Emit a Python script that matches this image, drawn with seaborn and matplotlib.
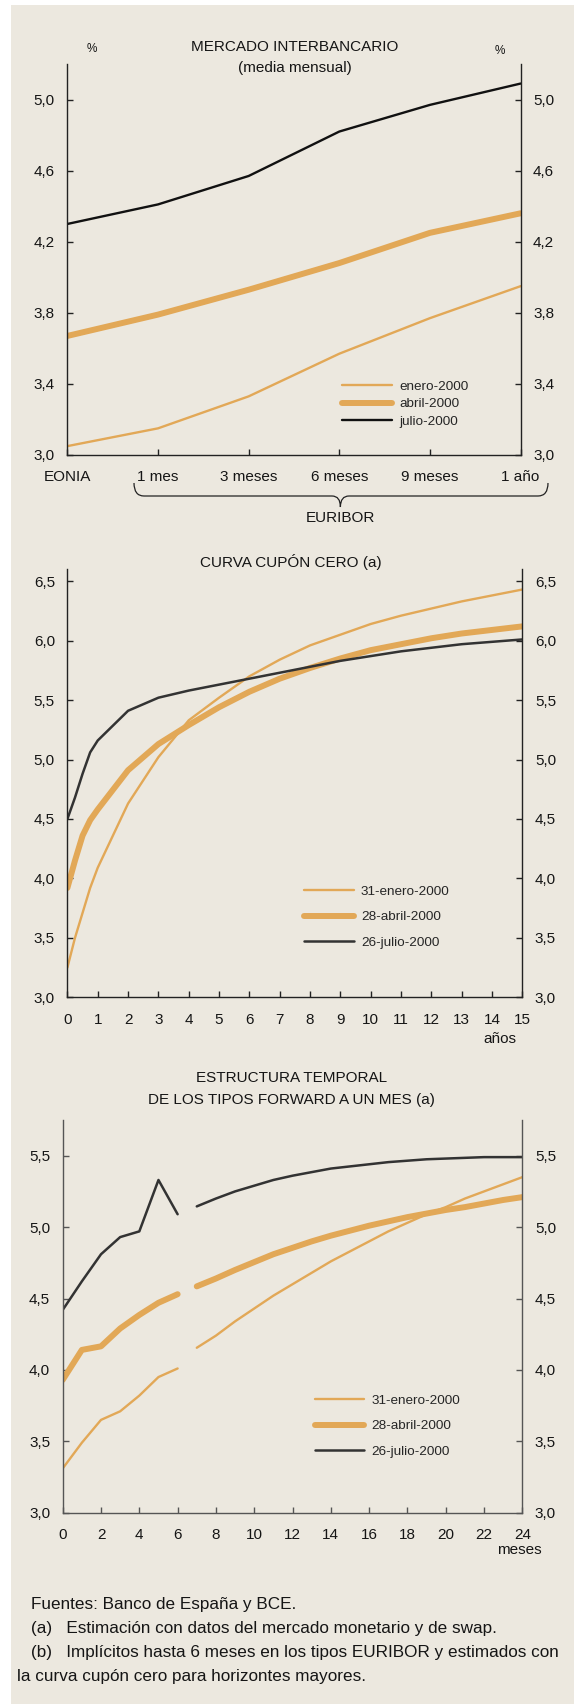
import numpy as np
import pandas as pd
import matplotlib
matplotlib.use('Agg')
import matplotlib.pyplot as plt
from matplotlib.patches import Rectangle, PathPatch
from matplotlib.path import Path
import seaborn as sns

# Mercado interbancario (media mensual)
categorias = ['EONIA', '1 mes', '3 meses', '6 meses', '9 meses', '1 año']
inter_enero = [3.05, 3.15, 3.33, 3.57, 3.77, 3.95]
inter_abril = [3.67, 3.79, 3.93, 4.08, 4.25, 4.36]
inter_julio = [4.30, 4.41, 4.57, 4.82, 4.97, 5.09]

# Curva cupon cero
anos = [0, 0.25, 0.5, 0.75, 1, 2, 3, 4, 5, 6, 7, 8, 9, 10, 11, 12, 13, 14, 15]
cupon_enero = [3.25, 3.50, 3.71, 3.92, 4.09, 4.63, 5.02, 5.33, 5.52, 5.70, 5.84,
               5.96, 6.05, 6.14, 6.21, 6.27, 6.33, 6.38, 6.43]
cupon_abril = [3.92, 4.15, 4.36, 4.49, 4.58, 4.91, 5.13, 5.29, 5.44, 5.57, 5.68,
               5.77, 5.85, 5.92, 5.97, 6.02, 6.06, 6.09, 6.12]
cupon_julio = [4.50, 4.68, 4.88, 5.06, 5.16, 5.41, 5.52, 5.58, 5.63, 5.68, 5.73,
               5.78, 5.83, 5.87, 5.91, 5.94, 5.97, 5.99, 6.01]

# Tipos forward a un mes (tramo EURIBOR y tramo cupon cero)
meses_a = [0, 1, 2, 3, 4, 5, 6]
meses_b = list(range(7, 25))
fwd_enero_a = [3.31, 3.49, 3.65, 3.71, 3.82, 3.95, 4.01]
fwd_abril_a = [3.93, 4.14, 4.165, 4.29, 4.385, 4.47, 4.53]
fwd_julio_a = [4.42, 4.62, 4.81, 4.93, 4.97, 5.33, 5.09]
fwd_enero_b = [4.155, 4.24, 4.34, 4.43, 4.52, 4.60, 4.68, 4.76, 4.83, 4.90, 4.97,
               5.03, 5.09, 5.14, 5.20, 5.25, 5.30, 5.35]
fwd_abril_b = [4.585, 4.64, 4.70, 4.755, 4.81, 4.855, 4.90, 4.94, 4.975, 5.01, 5.04,
               5.07, 5.095, 5.12, 5.14, 5.165, 5.19, 5.21]
fwd_julio_b = [5.145, 5.20, 5.25, 5.29, 5.33, 5.36, 5.385, 5.41, 5.425, 5.44, 5.455,
               5.465, 5.475, 5.48, 5.485, 5.49, 5.49, 5.49]

sns.set_style('ticks')
plt.rcParams['font.family'] = ['Liberation Sans', 'DejaVu Sans']
plt.rcParams['lines.solid_capstyle'] = 'round'

NARANJA = '#E2A857'
FONDO = '#ECE8DF'
W, H = 574, 1704

fig = plt.figure(figsize=(W / 100, H / 100), dpi=100)
fig.patch.set_facecolor('white')
fig.add_artist(Rectangle((11 / W, 0), 1 - 11 / W, 1 - 5 / H, transform=fig.transFigure,
                         facecolor=FONDO, edgecolor='none', zorder=-10))


def caja(l, t, r, b):
    return [l / W, 1 - b / H, (r - l) / W, (b - t) / H]


def texto(x, y, s, **kw):
    kw.setdefault('ha', 'center')
    kw.setdefault('va', 'center')
    kw.setdefault('fontsize', 11)
    fig.text(x / W, 1 - y / H, s, color='#151515', **kw)


def estilo(ax, yt, ylim, color_eje):
    ax.set_facecolor('none')
    ax.spines['top'].set_visible(False)
    for s in ['left', 'right', 'bottom']:
        ax.spines[s].set_visible(True)
        ax.spines[s].set_color(color_eje)
        ax.spines[s].set_linewidth(1.0)
    ax.set_ylim(*ylim)
    ax.set_yticks(yt)
    ax.set_yticklabels([f'{v:.1f}'.replace('.', ',') for v in yt])
    ax.tick_params(axis='y', left=True, right=True, labelleft=True, labelright=True,
                   direction='in', length=4, width=1, pad=9, labelsize=11,
                   color=color_eje, labelcolor='#151515')
    ax.tick_params(axis='x', direction='in', length=4, width=1, pad=11, labelsize=11,
                   color=color_eje, labelcolor='#151515')
    ax.set_xlabel('')
    ax.set_ylabel('')


# ---- panel 1
ax1 = fig.add_axes(caja(67.4, 64, 520.6, 455))
pos = np.arange(len(categorias))
sns.lineplot(x=pos, y=inter_enero, ax=ax1, color=NARANJA, linewidth=1.7, label='enero-2000')
sns.lineplot(x=pos, y=inter_abril, ax=ax1, color=NARANJA, linewidth=4.3, label='abril-2000')
sns.lineplot(x=pos, y=inter_julio, ax=ax1, color='#111111', linewidth=1.7, label='julio-2000')
estilo(ax1, [3.0, 3.4, 3.8, 4.2, 4.6, 5.0], (3.0, 5.2), '#222222')
ax1.set_xlim(0, len(categorias) - 1)
ax1.set_xticks(pos)
ax1.set_xticklabels(categorias)
ax1.legend(loc='upper left', bbox_to_anchor=(0.606, 0.191), frameon=False, fontsize=9.7,
           handlelength=3.7, handletextpad=0.55, labelspacing=0.39, borderpad=0,
           borderaxespad=0)

# ---- panel 2
ax2 = fig.add_axes(caja(67.4, 569.3, 522.4, 997.3))
sns.lineplot(x=anos, y=cupon_enero, ax=ax2, color=NARANJA, linewidth=1.7, label='31-enero-2000')
sns.lineplot(x=anos, y=cupon_abril, ax=ax2, color=NARANJA, linewidth=4.3, label='28-abril-2000')
sns.lineplot(x=anos, y=cupon_julio, ax=ax2, color='#333333', linewidth=1.8, label='26-julio-2000')
estilo(ax2, [3.0, 3.5, 4.0, 4.5, 5.0, 5.5, 6.0, 6.5], (3.0, 6.6), '#222222')
ax2.set_xlim(0, 15)
ax2.set_xticks(range(0, 16))
ax2.legend(loc='upper left', bbox_to_anchor=(0.521, 0.261), frameon=False, fontsize=9.7,
           handlelength=3.7, handletextpad=0.5, labelspacing=0.96, borderpad=0,
           borderaxespad=0)

# ---- panel 3
ax3 = fig.add_axes(caja(62.7, 1120, 522.4, 1512.7))
sns.lineplot(x=meses_a, y=fwd_enero_a, ax=ax3, color=NARANJA, linewidth=1.7, label='31-enero-2000')
sns.lineplot(x=meses_a, y=fwd_abril_a, ax=ax3, color=NARANJA, linewidth=4.3, label='28-abril-2000')
sns.lineplot(x=meses_a, y=fwd_julio_a, ax=ax3, color='#333333', linewidth=1.8, label='26-julio-2000')
sns.lineplot(x=meses_b, y=fwd_enero_b, ax=ax3, color=NARANJA, linewidth=1.7)
sns.lineplot(x=meses_b, y=fwd_abril_b, ax=ax3, color=NARANJA, linewidth=4.3)
sns.lineplot(x=meses_b, y=fwd_julio_b, ax=ax3, color='#333333', linewidth=1.8)
estilo(ax3, [3.0, 3.5, 4.0, 4.5, 5.0, 5.5], (3.0, 5.75), '#555555')
ax3.set_xlim(0, 24)
ax3.set_xticks(range(0, 25, 2))
h, l = ax3.get_legend_handles_labels()
ax3.legend(h[:3], l[:3], loc='upper left', bbox_to_anchor=(0.548, 0.301), frameon=False,
           fontsize=9.7, handlelength=3.7, handletextpad=0.5, labelspacing=0.96,
           borderpad=0, borderaxespad=0)

# ---- textos
texto(294.7, 46.7, 'MERCADO INTERBANCARIO')
texto(294.7, 68, '(media mensual)')
texto(91.5, 49, '%', fontsize=8.5)
texto(499.7, 51, '%', fontsize=8.5)
texto(340.4, 518, 'EURIBOR')
texto(291, 561.7, 'CURVA CUPÓN CERO (a)')
texto(500, 1039, 'años')
texto(291.8, 1078, 'ESTRUCTURA TEMPORAL')
texto(291.8, 1100, 'DE LOS TIPOS FORWARD A UN MES (a)')
texto(519.8, 1550, 'meses')

# llave bajo EURIBOR
def p(x, y):
    return (x / W, 1 - y / H)

verts = [p(134, 483), p(134, 496), p(144, 496), p(332, 496), p(340.4, 496), p(340.4, 507),
         p(340.4, 496), p(349, 496), p(538, 496), p(548, 496), p(548, 483)]
codes = [Path.MOVETO, Path.CURVE3, Path.CURVE3, Path.LINETO, Path.CURVE3, Path.CURVE3,
         Path.CURVE3, Path.CURVE3, Path.LINETO, Path.CURVE3, Path.CURVE3]
fig.add_artist(PathPatch(Path(verts, codes), transform=fig.transFigure, facecolor='none',
                         edgecolor='#222222', linewidth=0.9))

# notas
fs = 12.3
texto(31, 1605, 'Fuentes: Banco de España y BCE.', ha='left', fontsize=fs)
texto(31, 1629, '(a)   Estimación con datos del mercado monetario y de swap.', ha='left', fontsize=fs)
texto(31, 1653, '(b)   Implícitos hasta 6 meses en los tipos EURIBOR y estimados con', ha='left', fontsize=fs)
texto(17, 1676, 'la curva cupón cero para horizontes mayores.', ha='left', fontsize=fs)

fig.savefig('out.png', dpi=100, facecolor=fig.get_facecolor())
